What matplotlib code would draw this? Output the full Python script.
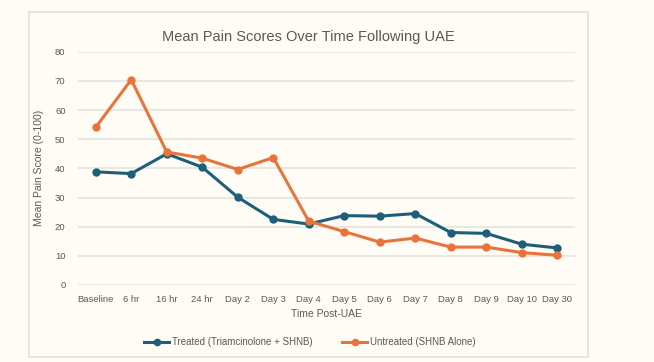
import matplotlib.pyplot as plt
from matplotlib.patches import Rectangle

# data
times = ["Baseline", "6 hr", "16 hr", "24 hr", "Day 2", "Day 3", "Day 4",
         "Day 5", "Day 6", "Day 7", "Day 8", "Day 9", "Day 10", "Day 30"]
treated = [38.8, 38.2, 45.0, 40.4, 30.1, 22.5, 20.9,
           23.8, 23.6, 24.5, 18.0, 17.7, 14.0, 12.7]
untreated = [54.1, 70.4, 45.6, 43.5, 39.6, 43.7, 21.9,
             18.3, 14.7, 16.1, 13.0, 13.0, 11.1, 10.2]
yticks = [0, 10, 20, 30, 40, 50, 60, 70, 80]

bg = "#fffcf5"
teal = "#1d5f7b"
orange = "#e8743b"
txt = "#595959"

plt.rcParams['font.family'] = ['Liberation Sans Narrow', 'Liberation Sans', 'DejaVu Sans']

fig = plt.figure(figsize=(6.54, 3.62), dpi=100, facecolor=bg)
# chart frame
fig.patches.append(Rectangle((29/654, 1-357/362), (588-29)/654, (357-12)/362,
                             transform=fig.transFigure, facecolor="none",
                             edgecolor="#e4e1da", linewidth=1.2, zorder=0))

ax = fig.add_axes([78/654, 1-285/362, 497/654, 233.3/362])
ax.set_zorder(2)
ax.set_facecolor("none")
x = list(range(len(times)))

ax.plot(x, treated, color=teal, lw=2.2, marker="o", ms=5, label="Treated (Triamcinolone + SHNB)", zorder=3)
ax.plot(x, untreated, color=orange, lw=2.2, marker="o", ms=5, label="Untreated (SHNB Alone)", zorder=3)

ax.set_xlim(-0.5, len(times) - 0.5)
ax.set_ylim(0, 80)
ax.set_yticks(yticks)
ax.set_xticks(x)
ax.set_xticklabels(times)
ax.tick_params(length=0, labelsize=6.8, colors=txt, pad=7)
ax.tick_params(axis="y", pad=9)
ax.grid(axis="y", color="#e5e3dd", lw=1.2)
ax.set_axisbelow(True)
for s in ax.spines.values():
    s.set_visible(False)

ax.set_xlabel("Time Post-UAE", fontsize=7.5, color=txt, labelpad=4)
ax.set_ylabel("Mean Pain Score (0-100)", fontsize=7.5, color=txt, labelpad=8)
fig.text(0.471, 1-37/362, "Mean Pain Scores Over Time Following UAE", ha="center", va="center",
         fontsize=10.5, color=txt)

fig.legend(loc="center", bbox_to_anchor=(0.474, 1-342/362), ncol=2, frameon=False,
           fontsize=7, labelcolor=txt, handlelength=2.6, columnspacing=3, handletextpad=0.3,
           markerscale=0.9)

fig.savefig("out.png", dpi=100, facecolor=bg)
